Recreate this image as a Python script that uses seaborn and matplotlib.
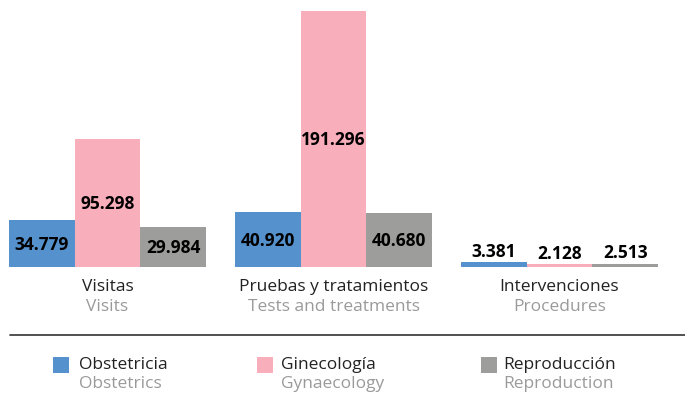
import matplotlib.pyplot as plt
from matplotlib.lines import Line2D
from matplotlib.patches import Rectangle
import matplotlib.transforms as mtransforms
import pandas as pd
import seaborn as sns

# data
categories = ['Visitas', 'Pruebas y tratamientos', 'Intervenciones']
categories_en = ['Visits', 'Tests and treatments', 'Procedures']
series = ['Obstetricia', 'Ginecología', 'Reproducción']
series_en = ['Obstetrics', 'Gynaecology', 'Reproduction']
obstetricia = [34779, 40920, 3381]
ginecologia = [95298, 191296, 2128]
reproduccion = [29984, 40680, 2513]

colors = ['#5591cd', '#f8afbb', '#9d9d9c']
grey_text = '#9a9a9a'

rows = []
for name, vals in zip(series, [obstetricia, ginecologia, reproduccion]):
    for cat, v in zip(categories, vals):
        rows.append({'categoria': cat, 'serie': name, 'valor': v})
df = pd.DataFrame(rows)

sns.set_style('white')
plt.rcParams['font.family'] = ['Open Sans', 'DejaVu Sans']

W, H = 685, 406
fig = plt.figure(figsize=(W / 100, H / 100), dpi=100)
ax = fig.add_axes([0, (H - 268) / H, 1, 268 / H])

sns.barplot(data=df, x='categoria', y='valor', hue='serie', order=categories,
            hue_order=series, palette=colors, width=0.872, gap=0,
            saturation=1, linewidth=0, errorbar=None, legend=False, ax=ax)

ymax = max(ginecologia) * 268 / 256
ax.set_ylim(0, ymax)
ax.set_xlim(-107.5 / 226, (W - 107.5) / 226)
ax.axis('off')

# value labels: centered inside tall bars, above small ones
for p in ax.patches:
    h = p.get_height()
    if h <= 0:
        continue
    x = p.get_x() + p.get_width() / 2
    txt = f'{h:,.0f}'.replace(',', '.')
    if h > 10000:
        ax.text(x, h / 2, txt, ha='center', va='center', fontsize=12.5,
                fontweight='bold', color='black')
    else:
        ax.text(x, h + ymax * 0.008, txt, ha='center', va='bottom',
                fontsize=12.5, fontweight='bold', color='black')

# category labels under the bars
trans = mtransforms.blended_transform_factory(ax.transData, fig.transFigure)
for i, (es, en) in enumerate(zip(categories, categories_en)):
    ax.text(i, 1 - 287 / H, es, transform=trans, ha='center', va='center',
            fontsize=12.5, color='#222222')
    ax.text(i, 1 - 307 / H, en, transform=trans, ha='center', va='center',
            fontsize=12.5, color=grey_text)

# separator line
fig.add_artist(Line2D([10 / W, 1], [1 - 336 / H] * 2, color='#333333', lw=1.2))

# legend
sq_x = [53, 257, 481]
txt_x = [79, 281, 503]
for sx, tx, c, es, en in zip(sq_x, txt_x, colors, series, series_en):
    fig.add_artist(Rectangle((sx / W, 1 - 374 / H), 16 / W, 16 / H,
                             transform=fig.transFigure, color=c, lw=0))
    fig.text(tx / W, 1 - 365 / H, es, ha='left', va='center', fontsize=12.5,
             color='#222222')
    fig.text(tx / W, 1 - 384 / H, en, ha='left', va='center', fontsize=12.5,
             color=grey_text)

fig.savefig('out.png', dpi=100)
